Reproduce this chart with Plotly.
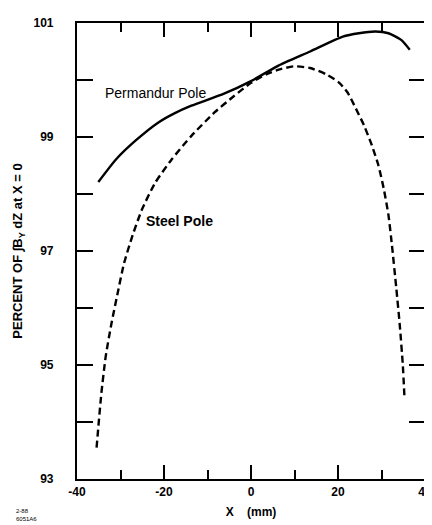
import plotly.graph_objects as go

# Permandur pole (solid)
perm_x = [-35.1, -31.0, -26.5, -21.2, -17.5, -13.7, -6.2, 0.0, 6.0, 13.6, 21.1, 24.8, 28.6, 31.6, 34.6, 36.5]
perm_y = [98.21, 98.61, 98.94, 99.26, 99.42, 99.55, 99.76, 99.98, 100.24, 100.50, 100.76, 100.82, 100.85, 100.82, 100.70, 100.53]

# Steel pole (dashed)
steel_x = [-35.5, -34.4, -33.4, -32.1, -30.6, -29.2, -27.2, -25.0, -22.0, -18.2, -13.7, -8.4, -3.9, 0.0,
           3.5, 6.8, 9.8, 13.6, 17.3, 20.3, 22.2, 24.1, 26.0, 27.8, 29.3, 30.5, 31.6, 32.4, 33.4, 34.2, 34.9, 35.3]
steel_y = [93.55, 94.50, 95.15, 95.72, 96.28, 96.78, 97.28, 97.74, 98.20, 98.61, 99.02, 99.43, 99.72, 99.95,
           100.10, 100.19, 100.24, 100.21, 100.10, 99.95, 99.78, 99.50, 99.20, 98.85, 98.50, 98.10, 97.63, 97.10, 96.35, 95.70, 95.00, 94.40]

x_ticks = [-40, -20, 0, 20, 40]
x_labels = ["-40", "-20", "0", "20", "40"]
y_ticks = [93, 94, 95, 96, 97, 98, 99, 100, 101]
y_labels = ["93", "", "95", "", "97", "", "99", "", "101"]

font = "Liberation Sans, Arial, sans-serif"

fig = go.Figure()
fig.add_trace(go.Scatter(x=perm_x, y=perm_y, mode="lines",
                         line=dict(color="black", width=2.4, shape="spline", smoothing=0.6),
                         showlegend=False))
fig.add_trace(go.Scatter(x=steel_x, y=steel_y, mode="lines",
                         line=dict(color="black", width=2.4, dash="7px,4px", shape="spline", smoothing=0.6),
                         showlegend=False))

fig.update_layout(
    width=432, height=525,
    margin=dict(l=69, r=8, t=12, b=54),
    paper_bgcolor="white", plot_bgcolor="white",
    font=dict(family=font, color="black", size=12),
    xaxis=dict(range=[-40, 40], tickvals=x_ticks, ticktext=x_labels,
               ticks="inside", ticklen=14, tickwidth=1.6, tickcolor="black",
               minor=dict(dtick=10, tick0=-30, ticks="inside", ticklen=9, tickwidth=1.6, tickcolor="black"),
               showline=True, linecolor="black", linewidth=2.2, mirror="ticks",
               showgrid=False, zeroline=False,
               tickfont=dict(family=font, size=12, weight="bold"),
               title=dict(text="X    (mm)", standoff=10,
                          font=dict(family=font, size=12, weight="bold"))),
    yaxis=dict(range=[93, 101], tickvals=y_ticks, ticktext=y_labels,
               ticks="inside", ticklen=16, tickwidth=1.6, tickcolor="black",
               showline=True, linecolor="black", linewidth=2.2, mirror="ticks",
               showgrid=False, zeroline=False, ticklabelstandoff=19,
               tickfont=dict(family=font, size=12, weight="bold"),
               title=dict(text="PERCENT OF ∫B<sub>Y</sub> dZ at X = 0", standoff=8,
                          font=dict(family=font, size=13, weight="bold"))),
    annotations=[
        dict(x=-34.1, y=99.78, text="Permandur Pole", showarrow=False,
             xanchor="left", yanchor="middle", font=dict(family=font, size=14)),
        dict(x=-24.5, y=97.52, text="Steel Pole", showarrow=False,
             xanchor="left", yanchor="middle", font=dict(family=font, size=14, weight="bold")),
        dict(x=-0.18, y=-0.078, xref="paper", yref="paper", xanchor="left", yanchor="middle",
             text="2-88<br>6051A6", showarrow=False, align="left",
             font=dict(family=font, size=6)),
    ],
)

fig.write_html("out.html")
